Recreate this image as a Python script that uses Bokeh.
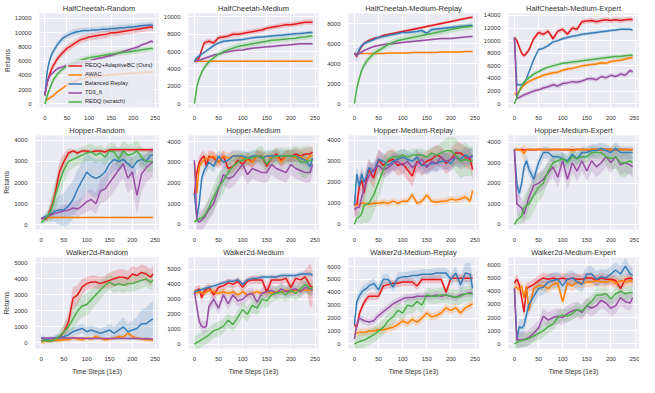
from bokeh.plotting import figure
from bokeh.layouts import row, column
from bokeh.models import FixedTicker, Range1d, Legend, LegendItem
from bokeh.embed import file_html
from bokeh.resources import INLINE

# ---------------- data ----------------
X = [0, 5, 10, 15, 20, 25, 30, 40, 50, 60, 70, 80, 90, 100, 110, 120, 130, 140, 150,
     160, 170, 180, 190, 200, 210, 220, 230, 240, 245]
X_TICKS = [0, 50, 100, 150, 200, 250]
SERIES = ["REDQ+AdaptiveBC (Ours)", "AWAC", "Balanced Replay", "TD3_ft", "REDQ (scratch)"]
TITLES = ["HalfCheetah-Random", "HalfCheetah-Medium", "HalfCheetah-Medium-Replay", "HalfCheetah-Medium-Expert",
          "Hopper-Random", "Hopper-Medium", "Hopper-Medium-Replay", "Hopper-Medium-Expert",
          "Walker2d-Random", "Walker2d-Medium", "Walker2d-Medium-Replay", "Walker2d-Medium-Expert"]
Y_TICKS = [[0, 2000, 4000, 6000, 8000, 10000, 12000],
           [0, 2000, 4000, 6000, 8000, 10000],
           [0, 2000, 4000, 6000, 8000],
           [0, 2000, 4000, 6000, 8000, 10000, 12000, 14000],
           [0, 1000, 2000, 3000, 4000], [0, 1000, 2000, 3000, 4000],
           [0, 1000, 2000, 3000, 4000], [0, 1000, 2000, 3000, 4000],
           [0, 1000, 2000, 3000, 4000, 5000], [0, 1000, 2000, 3000, 4000, 5000],
           [0, 1000, 2000, 3000, 4000, 5000, 6000], [0, 1000, 2000, 3000, 4000, 5000, 6000]]
Y_RANGES = [(-500, 12700), (-450, 10400), (-400, 9000), (-600, 14300),
            (-220, 4230), (-260, 4300), (-250, 4230), (-250, 4330),
            (-350, 5330), (-300, 5800), (-350, 6700), (-350, 6550)]

# HalfCheetah-Random
HCR_red = [1200, 3000, 4000, 4900, 5500, 6000, 6500, 7200, 7800, 8200, 8600, 9000, 9200, 9400, 9500, 9600, 9700, 9800, 10000, 10000, 10100, 10200, 10300, 10400, 10500, 10600, 10700, 10800, 10700]
HCR_awac = [400, 600, 800, 1000, 1200, 1500, 1800, 2200, 2700, 3000, 3200, 3500, 3600, 3800, 3850, 3900, 4000, 4000, 4100, 4150, 4200, 4250, 4300, 4300, 4350, 4400, 4450, 4500, 4500]
HCR_bal = [1200, 4500, 6000, 6900, 7500, 8000, 8500, 9200, 9600, 9900, 10100, 10200, 10300, 10300, 10400, 10400, 10500, 10500, 10600, 10600, 10700, 10700, 10800, 10800, 10900, 11000, 11000, 11100, 11000]
HCR_td3 = [1200, 3000, 3800, 4200, 4500, 4800, 5000, 5200, 5400, 5600, 5700, 5800, 5900, 6000, 6200, 6400, 6500, 6700, 6800, 7000, 7200, 7400, 7600, 7800, 8000, 8300, 8500, 8800, 8700]
HCR_redq = [0, 1100, 2000, 2800, 3500, 3900, 4300, 4900, 5300, 5600, 5900, 6100, 6300, 6500, 6600, 6700, 6800, 6900, 7000, 7100, 7200, 7250, 7300, 7400, 7500, 7600, 7700, 7800, 7800]
HCR_sd = [500, 200, 450, 250, 400]

# HalfCheetah-Medium
HCM_red = [4900, 5000, 5300, 6200, 7000, 7100, 7200, 7000, 7600, 7700, 7800, 8000, 8000, 8100, 8200, 8300, 8400, 8500, 8700, 8800, 8900, 9000, 9100, 9100, 9200, 9300, 9400, 9400, 9400]
HCM_awac = [4900, 4900, 4900, 4900, 4900, 4900, 4900, 4900, 4900, 4900, 4900, 4900, 4900, 4900, 4900, 4900, 4900, 4900, 4900, 4900, 4900, 4900, 4900, 4900, 4900, 4900, 4900, 4900, 4900]
HCM_bal = [4900, 5300, 5500, 5700, 5900, 6100, 6300, 6700, 7000, 7200, 7250, 7300, 7350, 7400, 7500, 7600, 7650, 7700, 7750, 7800, 7850, 7900, 7950, 8000, 8050, 8100, 8150, 8200, 8200]
HCM_td3 = [4900, 4950, 5000, 5100, 5200, 5300, 5400, 5600, 5700, 5900, 6000, 6100, 6150, 6200, 6300, 6400, 6450, 6500, 6550, 6600, 6650, 6700, 6750, 6800, 6850, 6900, 6900, 6900, 6900]
HCM_redq = [0, 1900, 2900, 3600, 4100, 4500, 4800, 5300, 5700, 6000, 6200, 6400, 6600, 6700, 6800, 6900, 7000, 7100, 7200, 7300, 7350, 7400, 7450, 7500, 7550, 7650, 7700, 7800, 7800]
HCM_sd = [300, 60, 200, 150, 350]

# HalfCheetah-Medium-Replay
HCMR_red = [5000, 4700, 5300, 5700, 6000, 6150, 6300, 6500, 6600, 6800, 6900, 7000, 7100, 7200, 7300, 7400, 7500, 7600, 7700, 7800, 7900, 8000, 8100, 8200, 8300, 8400, 8500, 8600, 8600]
HCMR_awac = [5000, 5000, 5000, 5000, 5000, 5000, 5000, 5000, 5000, 5000, 5050, 5050, 5050, 5050, 5050, 5100, 5100, 5100, 5100, 5100, 5100, 5150, 5150, 5150, 5150, 5150, 5200, 5200, 5200]
HCMR_bal = [5000, 4800, 5400, 5800, 6000, 6100, 6200, 6400, 6600, 6700, 6800, 6900, 7000, 7100, 7100, 7150, 7200, 7300, 7000, 7400, 7450, 7500, 7550, 7600, 7650, 7700, 7750, 7800, 7800]
HCMR_td3 = [5000, 4900, 5000, 5150, 5300, 5400, 5500, 5700, 5800, 5900, 5950, 6000, 6050, 6100, 6150, 6200, 6250, 6300, 6350, 6400, 6450, 6500, 6500, 6500, 6550, 6600, 6650, 6700, 6700]
HCMR_redq = [0, 1500, 2500, 3300, 3800, 4200, 4500, 5000, 5300, 5600, 5900, 6100, 6300, 6400, 6500, 6600, 6700, 6800, 6900, 7000, 7100, 7200, 7300, 7400, 7500, 7600, 7650, 7700, 7750]
HCMR_sd = [150, 80, [100, 700, 300, 200, 200, 200, 200, 200, 200, 200, 200, 200, 200, 200, 200, 200, 200, 200, 250, 200, 200, 200, 200, 200, 200, 200, 200, 200, 200], 100, 350]

# HalfCheetah-Medium-Expert
HCME_red = [10500, 10000, 9000, 8000, 7600, 8000, 8500, 10300, 11300, 11000, 11500, 10300, 11500, 11800, 11000, 12000, 11800, 13000, 13100, 13200, 13000, 13200, 13300, 13200, 13300, 13200, 13300, 13400, 13300]
HCME_awac = [1600, 1500, 2000, 2500, 3000, 3300, 3500, 3900, 4200, 4500, 4700, 4900, 5000, 5300, 5500, 5600, 5800, 6000, 6100, 6200, 6300, 6500, 6400, 6700, 6800, 6900, 7100, 7300, 7300]
HCME_bal = [10500, 3000, 3000, 3000, 3200, 4000, 5000, 7000, 8600, 8800, 9200, 9800, 10000, 10300, 10500, 10700, 10800, 11000, 11100, 11200, 11300, 11400, 11500, 11600, 11700, 11800, 11800, 11800, 11700]
HCME_td3 = [10500, 900, 1000, 1200, 1400, 1550, 1700, 2000, 2200, 2500, 2700, 3000, 2800, 3200, 3300, 3500, 3400, 3600, 3900, 4000, 3800, 4300, 4100, 4500, 4300, 4700, 4500, 5300, 5000]
HCME_redq = [0, 1000, 2000, 2800, 3400, 3800, 4100, 4700, 5100, 5500, 5800, 6000, 6200, 6400, 6500, 6600, 6700, 6800, 6900, 7000, 7100, 7200, 7300, 7400, 7500, 7500, 7600, 7700, 7700]
HCME_sd = [400, 300, 250, 350, 350]

# Hopper-Random
HR_red = [300, 300, 250, 400, 700, 1000, 1400, 2500, 3000, 3400, 3500, 3400, 3500, 3500, 3450, 3500, 3500, 3450, 3550, 3550, 3550, 3550, 3550, 3550, 3550, 3550, 3550, 3550, 3550]
HR_awac = [300, 320, 350, 350, 350, 350, 350, 350, 350, 350, 350, 350, 350, 350, 350, 350, 350, 350, 350, 350, 350, 350, 350, 350, 350, 350, 350, 350, 350]
HR_bal = [300, 350, 400, 450, 500, 550, 650, 700, 700, 900, 1200, 1700, 2100, 2500, 2300, 2200, 2300, 2500, 2900, 3100, 3000, 3100, 2900, 2700, 3000, 3100, 3000, 3300, 3300]
HR_td3 = [300, 320, 350, 400, 450, 500, 550, 600, 650, 700, 800, 750, 900, 1100, 1200, 1000, 1600, 1700, 2000, 2300, 2600, 2900, 2200, 2500, 1400, 2400, 2700, 2900, 3000]
HR_redq = [100, 200, 300, 450, 600, 900, 1300, 2000, 2600, 3000, 3100, 3200, 3300, 3400, 3450, 3300, 3400, 3200, 3500, 3450, 3100, 3500, 3300, 3350, 3500, 3200, 3000, 3000, 3000]
HR_sd = [[50, 50, 100, 200, 300, 400, 400, 500, 400, 200, 100, 100, 100, 100, 100, 100, 100, 100, 100, 100, 100, 100, 100, 100, 100, 100, 100, 100, 100],
         40,
         [50, 100, 150, 200, 300, 400, 500, 700, 800, 900, 900, 900, 900, 900, 900, 900, 800, 700, 600, 500, 500, 400, 400, 500, 400, 300, 300, 300, 300],
         [50, 50, 100, 100, 150, 200, 200, 200, 300, 300, 300, 400, 400, 500, 500, 500, 600, 600, 700, 700, 700, 700, 700, 800, 900, 800, 700, 700, 700],
         [100, 150, 200, 300, 500, 600, 700, 700, 600, 500, 400, 400, 400, 400, 400, 400, 400, 400, 400, 400, 500, 500, 500, 500, 500, 500, 500, 500, 500]]

# Hopper-Medium
HM_red = [1400, 2500, 3000, 3200, 3300, 2800, 3300, 3200, 3000, 3300, 2700, 2800, 3100, 2900, 3200, 3000, 3300, 3300, 2800, 3200, 3400, 3100, 3300, 3300, 3400, 3300, 3400, 3400, 3500]
HM_awac = [3000, 1500, 2800, 3000, 3100, 3200, 3200, 3300, 3000, 3300, 3200, 3300, 3300, 3200, 3100, 3000, 3300, 3200, 3300, 3200, 3300, 3000, 3300, 3300, 3200, 3300, 3100, 3300, 3300]
HM_bal = [1500, 300, 1000, 2200, 2600, 2800, 3000, 2800, 3300, 3000, 3100, 3300, 3300, 3300, 3200, 3300, 3300, 3200, 3300, 3300, 3300, 3300, 3300, 3300, 3300, 3200, 3100, 2800, 3200]
HM_td3 = [3100, 200, 100, 200, 300, 500, 700, 1000, 1700, 2400, 2200, 2300, 2600, 2900, 2400, 2700, 2600, 2500, 2500, 2900, 2700, 2600, 2500, 2900, 2700, 2600, 2500, 2500, 2900]
HM_redq = [100, 200, 250, 300, 400, 600, 800, 1300, 1800, 2100, 2500, 2800, 3000, 3100, 3200, 3200, 3300, 3300, 2900, 3200, 3300, 3300, 3300, 3300, 3300, 3000, 3000, 3100, 3100]
HM_sd = [300, 250, 300, 500,
         [100, 100, 150, 200, 300, 400, 500, 600, 700, 600, 500, 400, 400, 400, 300, 300, 400, 500, 500, 400, 400, 400, 400, 400, 500, 700, 800, 700, 600]]

# Hopper-Medium-Replay
HMR_red = [900, 900, 1800, 2100, 1500, 2200, 2600, 2200, 3100, 2800, 3000, 3100, 2800, 2900, 2600, 2300, 3000, 2800, 3000, 3100, 3300, 3200, 2900, 3100, 3400, 3400, 3200, 3100, 2600]
HMR_awac = [900, 900, 950, 1000, 1000, 950, 950, 1000, 1000, 1050, 1000, 1100, 1000, 1100, 1100, 1400, 1000, 1100, 1400, 1100, 1050, 1100, 1100, 1200, 1150, 1200, 1300, 1100, 1600]
HMR_bal = [900, 2400, 1800, 2400, 2000, 2300, 2700, 2500, 3100, 3000, 2800, 3000, 3100, 3200, 3100, 3000, 3200, 2800, 2800, 2900, 2900, 3000, 3000, 2900, 3200, 3100, 3300, 3200, 3300]
HMR_td3 = [700, 800, 800, 1300, 1700, 2000, 2300, 2600, 2800, 2600, 2700, 2900, 3000, 2800, 3000, 2700, 2900, 3100, 2700, 3000, 2900, 3200, 3000, 3100, 3200, 3000, 3100, 3200, 3200]
HMR_redq = [0, 300, 350, 500, 900, 950, 1000, 1400, 2000, 2600, 3100, 3200, 3200, 3300, 3200, 3300, 3300, 3300, 3200, 3400, 3300, 3400, 3500, 3500, 3300, 3000, 3100, 3000, 3000]
HMR_sd = [500, 150, 400, 400,
          [50, 200, 300, 500, 800, 900, 900, 900, 800, 600, 400, 300, 300, 300, 300, 300, 300, 300, 300, 300, 400, 500, 600, 700, 800, 800, 800, 700, 700]]

# Hopper-Medium-Expert
HME_red = [3650, 3650, 3640, 3650, 3620, 3640, 3650, 3640, 3650, 3650, 3640, 3650, 3650, 3640, 3650, 3630, 3650, 3650, 3640, 3650, 3650, 3640, 3650, 3650, 3640, 3650, 3650, 3640, 3650]
HME_awac = [3650, 3650, 3650, 3600, 3450, 3650, 3650, 3650, 3650, 3650, 3650, 3650, 3650, 3650, 3650, 3600, 3650, 3650, 3650, 3650, 3650, 3650, 3650, 3650, 3650, 3650, 3650, 3650, 3650]
HME_bal = [3650, 2000, 1500, 2000, 2800, 3100, 2700, 2200, 3000, 3500, 3500, 3300, 3300, 3200, 3100, 3400, 3200, 3500, 3500, 3600, 3600, 3700, 3600, 3500, 3700, 3500, 3500, 3500, 3500]
HME_td3 = [3650, 1000, 900, 800, 500, 900, 1300, 1900, 2000, 2200, 2500, 2800, 2300, 3100, 2200, 3000, 2600, 3100, 2600, 3100, 2800, 3000, 3300, 3000, 3300, 2900, 3000, 2900, 2800]
HME_redq = [0, 200, 300, 400, 800, 900, 1000, 1400, 1800, 2000, 2600, 3000, 3100, 3200, 3000, 3300, 3200, 3300, 3300, 3500, 3500, 3500, 3300, 3200, 3300, 3000, 3000, 3100, 3000]
HME_sd = [50,
          [50, 50, 50, 200, 400, 100, 50, 50, 50, 50, 50, 50, 50, 50, 50, 250, 50, 50, 50, 50, 50, 50, 50, 50, 50, 50, 50, 50, 50],
          300, 500,
          [50, 200, 300, 400, 600, 700, 800, 800, 700, 600, 500, 400, 300, 300, 300, 300, 300, 300, 300, 300, 300, 300, 400, 500, 600, 700, 700, 600, 600]]

# Walker2d-Random
WR_red = [100, 120, 150, 120, 100, 150, 200, 300, 700, 1300, 2800, 3000, 3500, 3700, 3800, 3800, 3700, 3800, 3900, 4000, 4100, 4100, 4000, 4300, 4200, 4400, 4300, 4100, 4300]
WR_awac = [50, 80, 100, 150, 150, 180, 200, 150, 200, 200, 300, 250, 200, 300, 250, 400, 300, 200, 250, 300, 400, 350, 600, 400, 300, 250, 200, 200, 150]
WR_bal = [300, 250, 200, 220, 250, 280, 300, 350, 400, 500, 700, 800, 900, 700, 800, 700, 600, 700, 800, 600, 800, 1000, 700, 800, 900, 1200, 1200, 1400, 1500]
WR_td3 = [300, 300, 300, 300, 300, 300, 300, 300, 300, 300, 300, 300, 300, 280, 280, 280, 280, 280, 280, 280, 280, 280, 280, 280, 280, 260, 260, 250, 250]
WR_redq = [100, 120, 150, 120, 100, 150, 200, 400, 700, 1000, 1500, 2000, 2300, 2400, 2700, 3000, 3300, 3600, 3800, 3600, 3700, 3600, 3700, 3700, 3800, 3900, 4000, 3800, 3900]
WR_sd = [[100, 100, 100, 100, 100, 100, 150, 200, 400, 600, 700, 600, 500, 400, 400, 400, 400, 400, 500, 500, 500, 500, 500, 500, 500, 500, 500, 500, 500],
         150,
         [200, 200, 150, 150, 150, 150, 200, 200, 250, 300, 300, 300, 300, 300, 300, 300, 300, 300, 400, 400, 500, 600, 500, 600, 700, 900, 1000, 1100, 1100],
         60,
         [100, 100, 100, 100, 100, 150, 200, 300, 500, 600, 700, 700, 700, 700, 700, 600, 600, 500, 500, 500, 500, 500, 500, 500, 500, 500, 500, 500, 500]]

# Walker2d-Medium
WM_red = [3500, 3600, 3700, 3100, 3500, 3700, 3800, 3300, 3800, 3900, 4100, 4000, 4200, 3800, 4200, 4300, 4300, 4300, 3500, 4300, 4300, 4300, 4400, 3800, 4400, 4300, 4500, 3900, 3800]
WM_awac = [3400, 3450, 3500, 3450, 3400, 3500, 3600, 3500, 3400, 3500, 3400, 3500, 3300, 3500, 3300, 3400, 3500, 3400, 3500, 3400, 3500, 3500, 3600, 3500, 3600, 3600, 3600, 3600, 3700]
WM_bal = [3500, 3550, 3600, 3650, 3700, 3750, 3800, 3900, 4000, 4100, 4200, 4200, 4300, 4000, 4300, 4400, 4400, 4500, 4500, 4500, 4500, 4600, 4600, 4600, 4600, 4700, 4700, 4700, 4600]
WM_td3 = [3500, 2500, 1500, 1200, 1100, 1200, 2500, 3000, 2400, 3300, 2700, 3300, 2900, 3000, 3300, 3400, 2800, 3400, 3500, 3600, 3400, 3700, 3500, 3600, 3700, 3500, 3800, 3700, 3600]
WM_redq = [0, 100, 200, 300, 400, 500, 600, 900, 1000, 1200, 1600, 1300, 1800, 2300, 2000, 2600, 2400, 3000, 2900, 3300, 3400, 3500, 3300, 3600, 3400, 3700, 4000, 3700, 3800]
WM_sd = [[200, 300, 300, 400, 300, 300, 300, 400, 300, 300, 300, 300, 300, 400, 300, 300, 300, 300, 500, 300, 300, 300, 300, 500, 300, 400, 500, 1500, 1200],
         200, 150, 400, 500]

# Walker2d-Medium-Replay
WMR_red = [1500, 1300, 2300, 2800, 3200, 3500, 3700, 3700, 3700, 4500, 4600, 4700, 4700, 4800, 4800, 4800, 4500, 5000, 5000, 5000, 5000, 5000, 4000, 5100, 5100, 5100, 5100, 5100, 5100]
WMR_awac = [800, 850, 900, 900, 900, 950, 1000, 1000, 1100, 1100, 1200, 1300, 1500, 1800, 1600, 1900, 1700, 2000, 2400, 2100, 2200, 2400, 2800, 2600, 2800, 2400, 2800, 3000, 3100]
WMR_bal = [1500, 3300, 3700, 4000, 4200, 4300, 4500, 4700, 4200, 5000, 5000, 4400, 5100, 5200, 5200, 5300, 5300, 5400, 5400, 5400, 5500, 5500, 5500, 5000, 5500, 4600, 5500, 5400, 4300]
WMR_td3 = [400, 1500, 2000, 1900, 1800, 1750, 1700, 1800, 2200, 2500, 2800, 3100, 3300, 3500, 3600, 3600, 3700, 3700, 3700, 3700, 3800, 3700, 3800, 3700, 3600, 3800, 3900, 4000, 3900]
WMR_redq = [0, 100, 200, 250, 300, 400, 500, 700, 1000, 1300, 1800, 2100, 2600, 2400, 3000, 2900, 3300, 3000, 3800, 3700, 3700, 3800, 3800, 3700, 3600, 3700, 3900, 3900, 3900]
WMR_sd = [300, 300,
          [300, 500, 400, 400, 400, 400, 400, 400, 400, 400, 400, 400, 400, 400, 400, 400, 400, 400, 400, 400, 400, 400, 400, 500, 500, 600, 800, 900, 900],
          300, 600]

# Walker2d-Medium-Expert
WME_red = [4600, 4900, 4500, 3500, 2400, 4200, 4300, 4500, 4800, 5000, 4900, 5000, 4900, 5000, 4900, 5000, 4900, 4900, 5000, 5000, 4800, 5000, 4900, 4900, 4800, 4200, 4900, 5000, 4900]
WME_awac = [4200, 4300, 4100, 4400, 3500, 4400, 2500, 4200, 4400, 4400, 4200, 4500, 4600, 3200, 4600, 4400, 4700, 4600, 4700, 4700, 4800, 4700, 4700, 4800, 4600, 4800, 4700, 4800, 4700]
WME_bal = [4200, 300, 1300, 1200, 1400, 2200, 3000, 3600, 4200, 4300, 4700, 4800, 4900, 4400, 4900, 5000, 4700, 4500, 5300, 5300, 4900, 5100, 5000, 5300, 5600, 5300, 5900, 5300, 5200]
WME_td3 = [4200, 300, 300, 320, 350, 400, 500, 800, 1200, 2100, 1800, 2000, 2100, 2000, 2300, 2500, 2600, 2400, 2900, 2700, 2900, 3300, 3100, 2700, 2900, 3500, 3200, 3100, 3500]
WME_redq = [0, 100, 200, 250, 300, 350, 400, 600, 800, 1000, 1300, 1500, 2000, 2200, 2100, 2300, 2600, 2500, 2900, 3200, 3700, 3700, 3800, 3400, 3800, 4000, 3800, 3900, 3900]
WME_sd = [400, 400, 600, 600, 500]

PANELS = [
    (HCR_red, HCR_awac, HCR_bal, HCR_td3, HCR_redq, HCR_sd),
    (HCM_red, HCM_awac, HCM_bal, HCM_td3, HCM_redq, HCM_sd),
    (HCMR_red, HCMR_awac, HCMR_bal, HCMR_td3, HCMR_redq, HCMR_sd),
    (HCME_red, HCME_awac, HCME_bal, HCME_td3, HCME_redq, HCME_sd),
    (HR_red, HR_awac, HR_bal, HR_td3, HR_redq, HR_sd),
    (HM_red, HM_awac, HM_bal, HM_td3, HM_redq, HM_sd),
    (HMR_red, HMR_awac, HMR_bal, HMR_td3, HMR_redq, HMR_sd),
    (HME_red, HME_awac, HME_bal, HME_td3, HME_redq, HME_sd),
    (WR_red, WR_awac, WR_bal, WR_td3, WR_redq, WR_sd),
    (WM_red, WM_awac, WM_bal, WM_td3, WM_redq, WM_sd),
    (WMR_red, WMR_awac, WMR_bal, WMR_td3, WMR_redq, WMR_sd),
    (WME_red, WME_awac, WME_bal, WME_td3, WME_redq, WME_sd),
]

# ---------------- style ----------------
COLORS = ["#e41a1c", "#ff7f00", "#377eb8", "#984ea3", "#4daf4a"]
FONT = "Liberation Sans"
BG = "#EAEAF2"


def make_panel(i):
    r, c = divmod(i, 4)
    w = 159 if c == 3 else 160
    h = 133 if r == 2 else 122
    p = figure(width=w, height=h, output_backend="svg", toolbar_location=None,
               x_range=Range1d(-12.25, 257.25), y_range=Range1d(*Y_RANGES[i]),
               min_border_left=28, min_border_right=w - 158,
               min_border_top=11, min_border_bottom=h - 109)
    p.background_fill_color = BG
    p.border_fill_color = "white"
    p.outline_line_color = None
    p.title.text = TITLES[i]
    p.title.text_font = FONT
    p.title.text_font_size = "7.5px"
    p.title.text_font_style = "normal"
    p.title.text_color = "#333333"
    p.title.align = "center"
    p.title.standoff = 2
    p.xaxis.ticker = FixedTicker(ticks=X_TICKS)
    p.yaxis.ticker = FixedTicker(ticks=Y_TICKS[i])
    for g in (p.xgrid, p.ygrid):
        g.grid_line_color = "white"
        g.grid_line_width = 1
    for ax in (p.xaxis, p.yaxis):
        ax.axis_line_color = None
        ax.major_tick_line_color = None
        ax.minor_tick_line_color = None
        ax.major_label_text_font = FONT
        ax.major_label_text_font_size = "6px"
        ax.major_label_text_color = "#333333"
        ax.major_label_standoff = 2
        ax.axis_label_text_font = FONT
        ax.axis_label_text_font_size = "6.5px"
        ax.axis_label_text_font_style = "normal"
        ax.axis_label_text_color = "#333333"
        ax.axis_label_standoff = 1
    if c == 0:
        p.yaxis.axis_label = "Returns"
    if r == 2:
        p.xaxis.axis_label = "Time Steps (1e3)"
        p.xaxis.axis_label_standoff = 4

    data = PANELS[i]
    sds = data[5]
    for k in range(5):
        ys = data[k]
        sd = sds[k]
        sdl = sd if isinstance(sd, list) else [sd] * len(ys)
        lo = [y - s for y, s in zip(ys, sdl)]
        hi = [y + s for y, s in zip(ys, sdl)]
        p.varea(x=X, y1=lo, y2=hi, fill_color=COLORS[k], fill_alpha=0.2)
    lines = []
    for k in range(5):
        lines.append(p.line(X, data[k], line_color=COLORS[k], line_width=1.5))
    if i == 0:
        leg = Legend(items=[LegendItem(label=SERIES[k], renderers=[lines[k]]) for k in range(5)],
                     location=(27, 1))
        leg.label_text_font = FONT
        leg.label_text_font_size = "5.7px"
        leg.label_text_color = "#262626"
        leg.glyph_width = 14
        leg.glyph_height = 5
        leg.label_height = 5
        leg.label_standoff = 3
        leg.spacing = 3
        leg.padding = 2
        leg.margin = 0
        leg.background_fill_color = BG
        leg.background_fill_alpha = 0.8
        leg.border_line_alpha = 0
        p.add_layout(leg)
    return p


figs = [make_panel(i) for i in range(12)]
layout = column(row(*figs[0:4]), row(*figs[4:8]), row(*figs[8:12]))

open("out.html", "w").write(file_html(layout, INLINE))
